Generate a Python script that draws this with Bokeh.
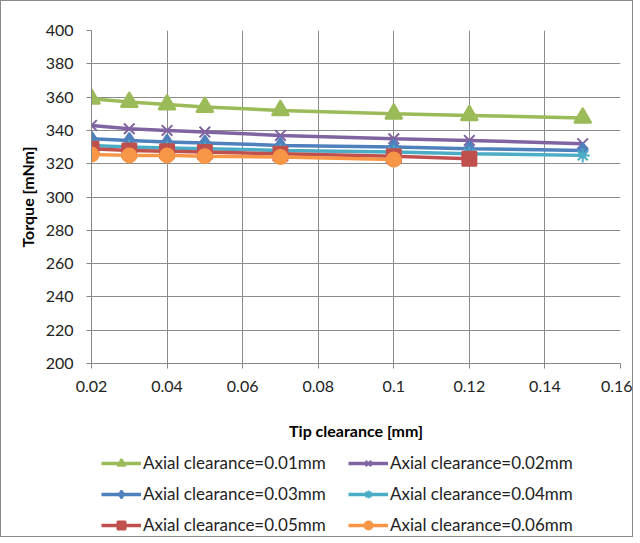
from bokeh.plotting import figure
from bokeh.layouts import column
from bokeh.models import Legend, LegendItem, FixedTicker, Range1d
from bokeh.embed import file_html
from bokeh.resources import INLINE

x_tip = [0.02, 0.03, 0.04, 0.05, 0.07, 0.1, 0.12, 0.15]
torque_001 = [359, 357, 355.5, 354, 352, 350, 349, 347.5]
torque_002 = [343, 341, 340, 339, 337, 335, 334, 332]
torque_003 = [335, 334, 333, 332.5, 331, 330, 329, 328]
torque_004 = [331, 330, 329.5, 329, 328, 327, 326, 325]
torque_005 = [329, 328, 327.5, 327, 326, 324.5, 323]
torque_006 = [325.5, 325, 325, 324.5, 324, 322.5]

labels = ["Axial clearance=0.01mm", "Axial clearance=0.02mm", "Axial clearance=0.03mm",
          "Axial clearance=0.04mm", "Axial clearance=0.05mm", "Axial clearance=0.06mm"]
x_ticks = [0.02, 0.04, 0.06, 0.08, 0.1, 0.12, 0.14, 0.16]
x_tick_labels = ["0.02", "0.04", "0.06", "0.08", "0.1", "0.12", "0.14", "0.16"]
y_ticks = list(range(200, 401, 20))

FONT = "Lato"
p = figure(width=631, height=445, output_backend="svg", toolbar_location=None,
           x_range=Range1d(0.02, 0.16), y_range=Range1d(200, 400),
           min_border_left=90, min_border_right=12, min_border_top=29, min_border_bottom=83)
p.outline_line_color = None

p.xaxis.ticker = FixedTicker(ticks=x_ticks)
p.xaxis.major_label_overrides = {t: l for t, l in zip(x_ticks, x_tick_labels)}
p.yaxis.ticker = FixedTicker(ticks=y_ticks)
for ax in (p.xaxis[0], p.yaxis[0]):
    ax.axis_line_color = "#868686"
    ax.major_tick_line_color = "#868686"
    ax.minor_tick_line_color = None
    ax.major_tick_out = 5
    ax.major_tick_in = 0
    ax.major_label_text_font = FONT
    ax.major_label_text_font_size = "16px"
    ax.major_label_text_color = "#222222"
    ax.axis_label_text_font = FONT
    ax.axis_label_text_font_size = "16px"
    ax.axis_label_text_font_style = "bold"
    ax.axis_label_text_color = "#000000"
p.xaxis.axis_label = "Tip clearance [mm]"
p.yaxis.axis_label = "Torque [mNm]"
p.xaxis.major_label_standoff = 12
p.xaxis.axis_label_standoff = 26
p.yaxis.major_label_standoff = 13
p.yaxis.axis_label_standoff = 6
p.xgrid.ticker = FixedTicker(ticks=x_ticks)
p.ygrid.ticker = FixedTicker(ticks=y_ticks)
p.grid.grid_line_color = "#8c8c8c"
p.grid.grid_line_width = 1

series = [
    (torque_001, "#9BBB59", "triangle", 17),
    (torque_002, "#8064A2", "x", 15),
    (torque_003, "#4F81BD", "diamond", 15),
    (torque_004, "#4BACC6", "asterisk", 14),
    (torque_005, "#C0504D", "square", 14),
    (torque_006, "#F79646", "circle", 14),
]

# legend panel below the chart (a bare figure whose range shows none of the data)
lf = figure(width=631, height=90, output_backend="svg", toolbar_location=None,
            x_range=Range1d(0, 1), y_range=Range1d(0, 1),
            min_border_left=90, min_border_right=12, min_border_top=9, min_border_bottom=1)
lf.axis.visible = False
lf.grid.visible = False
lf.outline_line_color = None

items = []
for (ys, col, mk, sz), lab in zip(series, labels):
    xs = x_tip[:len(ys)]
    p.line(xs, ys, line_color=col, line_width=3.5)
    p.scatter(xs, ys, marker=mk, size=sz, fill_color=col, line_color=col, line_width=2)
    r1 = lf.line(xs, ys, line_color=col, line_width=3.5)
    r2 = lf.scatter(xs, ys, marker=mk, size=sz, fill_color=col, line_color=col, line_width=2)
    items.append(LegendItem(label=lab, renderers=[r1, r2]))

# column-major fill: reorder so rows read 0.01/0.02, 0.03/0.04, 0.05/0.06
ordered = [items[0], items[2], items[4], items[1], items[3], items[5]]
leg = Legend(items=ordered, ncols=2, location=(10, 0), orientation="vertical")
leg.border_line_color = None
leg.background_fill_alpha = 0
leg.label_text_font = FONT
leg.label_text_font_size = "17px"
leg.label_text_color = "#222222"
leg.glyph_width = 40
leg.glyph_height = 20
leg.label_height = 20
leg.label_width = 195
leg.spacing = 10
leg.label_standoff = 2
leg.padding = 0
leg.margin = 0
lf.add_layout(leg, "center")

layout = column(p, lf, spacing=0)
layout.styles = {"border": "1px solid #8a8a8a"}

with open("out.html", "w") as f:
    f.write(file_html(layout, INLINE))
